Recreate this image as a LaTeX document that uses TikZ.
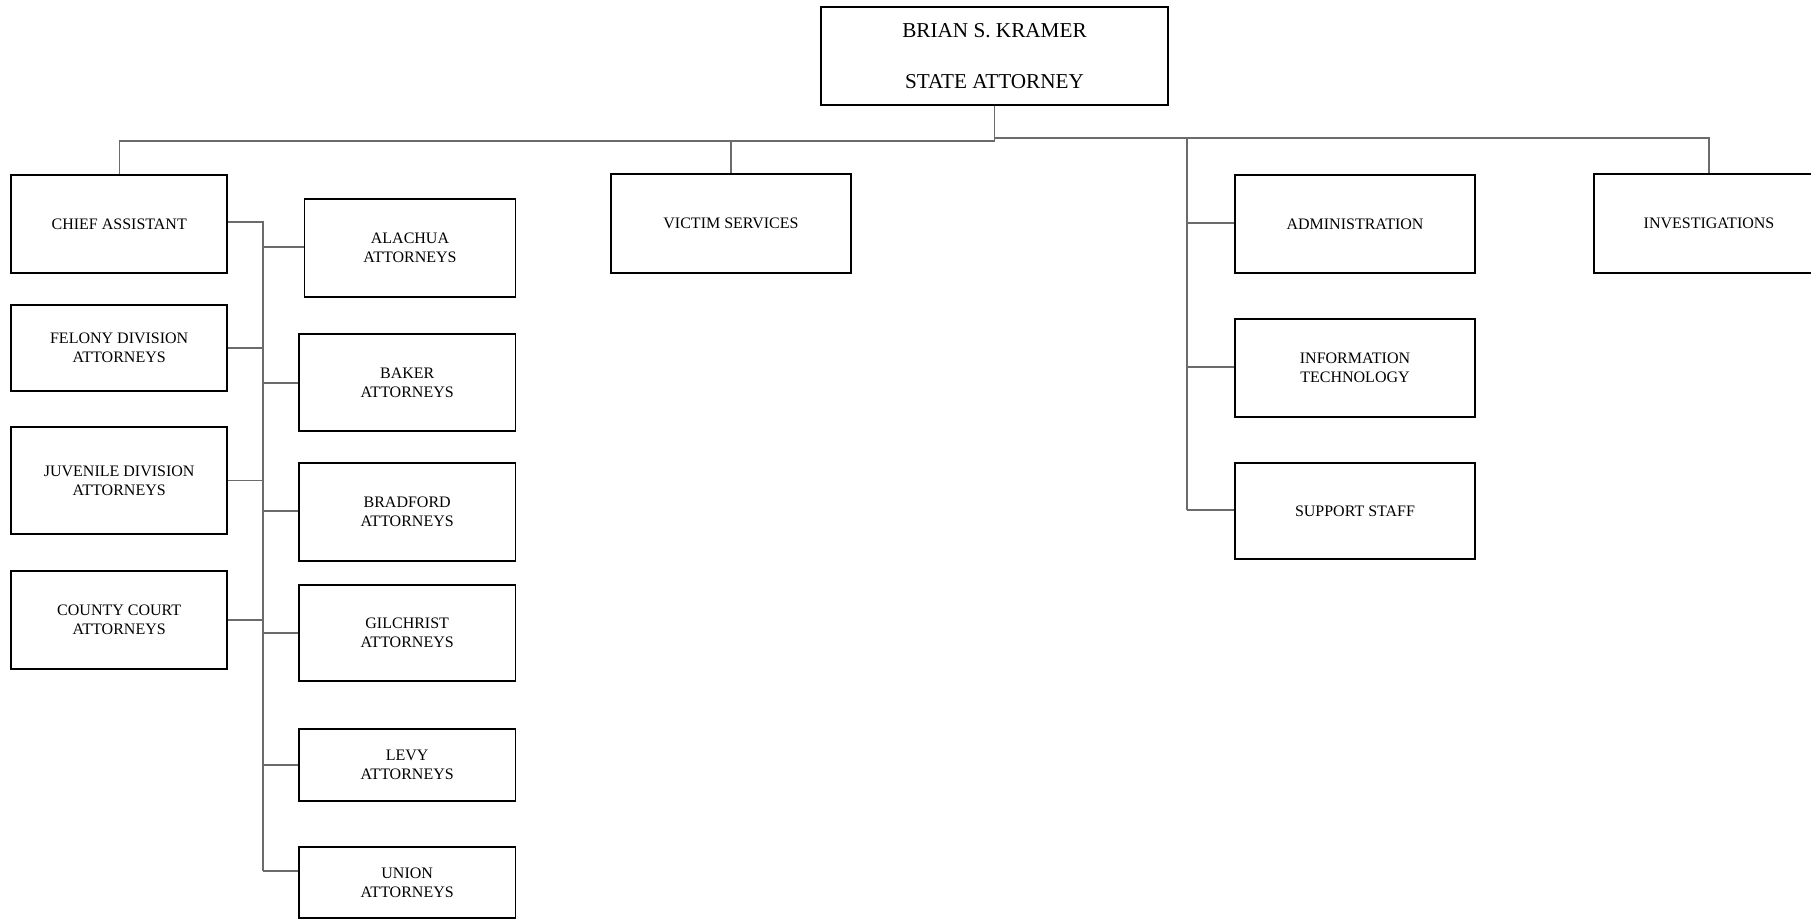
\documentclass[tikz,border=0pt]{standalone}
\usepackage{fontspec}
\setmainfont{Liberation Serif}
\begin{document}
\begin{tikzpicture}[x=1pt,y=-1pt,
  unit/.style={draw=black,line width=1.6pt,rectangle,inner sep=0pt,align=center,
    font=\fontsize{16}{19.3}\selectfont},
  conn/.style={draw=black!58,line width=1.1pt}]
\useasboundingbox (0,0) rectangle (1811,919);

% head of office
\node[unit,minimum width=347pt,minimum height=98pt,font=\fontsize{21.2}{25.5}\selectfont]
  (head) at (994.5,56) {BRIAN S. KRAMER\\[25.5pt]STATE ATTORNEY};

% first level
\node[unit,minimum width=216pt,minimum height=98pt] (chief) at (119.2,224) {CHIEF ASSISTANT};
\node[unit,minimum width=240pt,minimum height=99pt] (victim) at (731,223.5) {VICTIM SERVICES};
\node[unit,minimum width=240pt,minimum height=98pt] (admin) at (1355,224) {ADMINISTRATION};
\node[unit,minimum width=230pt,minimum height=99pt] (invest) at (1709,223.5) {INVESTIGATIONS};

% divisions under the chief assistant
\node[unit,minimum width=216pt,minimum height=86pt] (felony) at (119.2,348) {FELONY DIVISION\\ATTORNEYS};
\node[unit,minimum width=216pt,minimum height=107pt] (juvenile) at (119.2,480.5) {JUVENILE DIVISION\\ATTORNEYS};
\node[unit,minimum width=216pt,minimum height=98pt] (county) at (119.2,620) {COUNTY COURT\\ATTORNEYS};

% county offices
\node[unit,minimum width=211pt,minimum height=98pt] (alachua) at (410,248) {ALACHUA\\ATTORNEYS};
\node[unit,minimum width=216.7pt,minimum height=97pt] (baker) at (407.2,382.5) {BAKER\\ATTORNEYS};
\node[unit,minimum width=216.7pt,minimum height=98pt] (bradford) at (407.2,512) {BRADFORD\\ATTORNEYS};
\node[unit,minimum width=216.7pt,minimum height=96pt] (gilchrist) at (407.2,633) {GILCHRIST\\ATTORNEYS};
\node[unit,minimum width=216.7pt,minimum height=72pt] (levy) at (407.2,765) {LEVY\\ATTORNEYS};
\node[unit,minimum width=216.7pt,minimum height=70.5pt] (union) at (407.2,882.5) {UNION\\ATTORNEYS};

% administration units
\node[unit,minimum width=240pt,minimum height=98pt] (it) at (1355,368) {INFORMATION\\TECHNOLOGY};
\node[unit,minimum width=240pt,minimum height=96pt] (support) at (1355,511) {SUPPORT STAFF};

% junction points of the bus lines
\coordinate (busL) at (994.5,141);
\coordinate (busR) at (994.5,138);
\coordinate (admtop) at (1187,138);
\coordinate (lt0) at (263,222);
\coordinate (lt1) at (263,871);
\coordinate (at1) at (1187,510);

% top bus
\draw[conn] (head.south) -- (busL) -- (busL -| chief.north) -- (chief.north);
\draw[conn] (busL -| victim.north) -- (victim.north);
\draw[conn] (busR) -- (busR -| invest.north) -- (invest.north);

% left trunk
\draw[conn] (chief.east |- lt0) -- (lt0) -- (lt1);
\foreach \n in {felony,juvenile,county}
  \draw[conn] (\n.east) -- (\n.east -| lt0);
\foreach \n/\y in {alachua/247,baker/383,bradford/511,gilchrist/633,levy/765,union/871}
  \draw[conn] (lt0 |- 0,\y) -- (\n.west |- 0,\y);

% administration trunk
\draw[conn] (admtop) -- (at1);
\foreach \n/\y in {admin/223,it/367,support/510}
  \draw[conn] (admtop |- 0,\y) -- (\n.west |- 0,\y);
\end{tikzpicture}
\end{document}
